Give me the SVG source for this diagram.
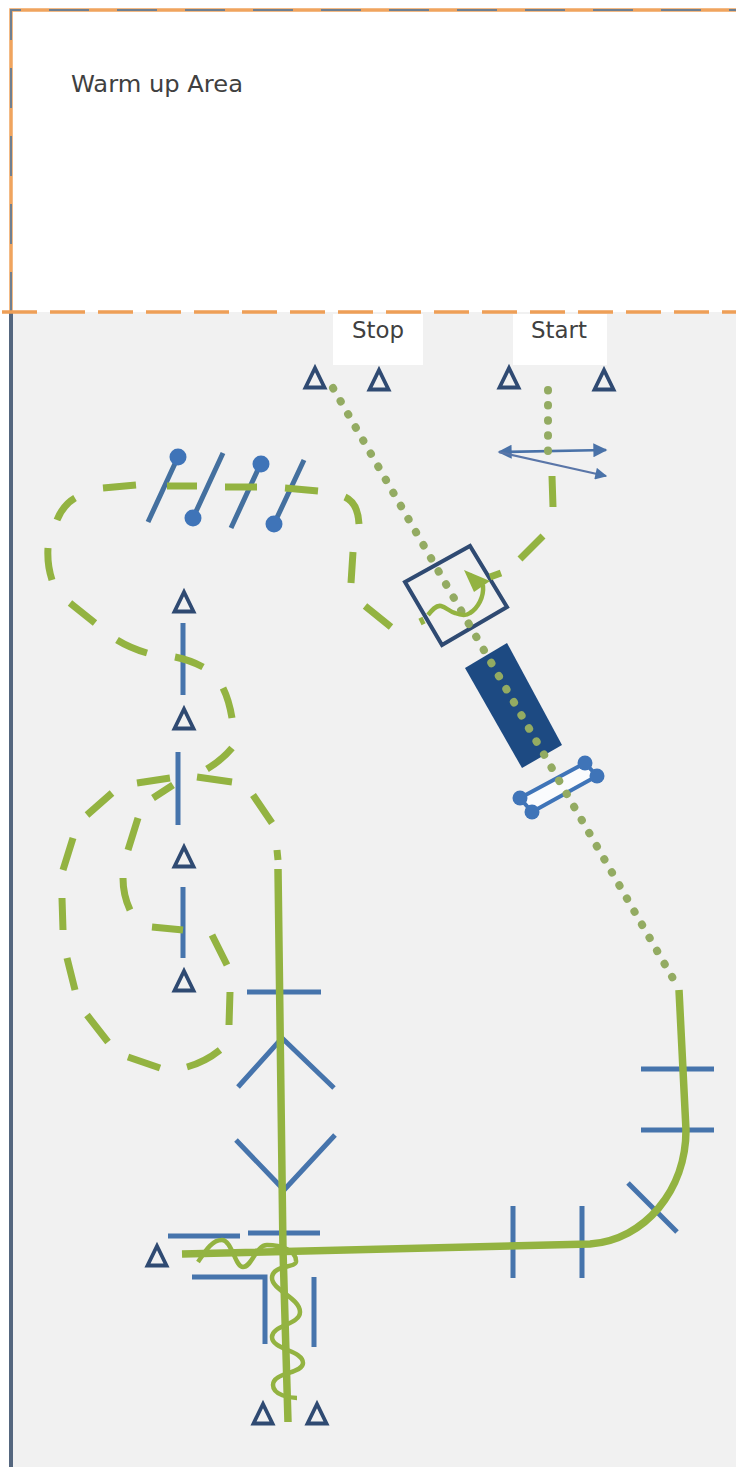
<svg xmlns="http://www.w3.org/2000/svg" width="736" height="1467" viewBox="0 0 736 1467">
<style>
.lbl{font-family:"DejaVu Sans","Liberation Sans",sans-serif;fill:#404040;font-size:23px}
.tri{fill:none;stroke:#2f4a72;stroke-width:3.8;stroke-linejoin:miter}
.b{fill:none;stroke:#44709f;stroke-width:5;stroke-linecap:butt}
.bt{fill:none;stroke:#4674ac;stroke-width:5}
.dot{fill:#3f74b8}
.g{fill:none;stroke:#93b341;stroke-width:7;stroke-linecap:butt;stroke-linejoin:round}
.gs{fill:none;stroke:#93b341;stroke-width:7.5}
.w{fill:none;stroke:#93b341;stroke-width:4.5;stroke-linejoin:round}
.d{fill:none;stroke:#93ab62;stroke-width:8;stroke-linecap:round;stroke-dasharray:0.5 14.6}
</style>
<defs>
<path id="t" class="tri" d="M0-11 L9.5 8.5 H-9.5 Z"/>
<marker id="ah" viewBox="0 0 10 10" refX="9" refY="5" markerWidth="6" markerHeight="5.4" orient="auto-start-reverse" markerUnits="strokeWidth"><path d="M0 0L10 5L0 10Z" fill="#4a72a8"/></marker>
</defs>
<rect width="736" height="1467" fill="#ffffff"/>
<rect id="field" x="11" y="312" width="725" height="1155" fill="#f1f1f1"/>

<g id="warm-up-area">
<path d="M11 312V10H736" fill="none" stroke="#f0a45e" stroke-width="3.5"/>
<path d="M11 312V10H736" fill="none" stroke="#6f7f90" stroke-width="2" stroke-dasharray="40 28"/>
<text class="lbl" x="71" y="92" textLength="172" lengthAdjust="spacingAndGlyphs">Warm up Area</text>
</g>
<g id="field-border">
<path d="M11 312V1467" fill="none" stroke="#55677f" stroke-width="4"/>
<path d="M2 312H736" fill="none" stroke="#ee9f57" stroke-width="3.5" stroke-dasharray="35 13"/>
</g>
<g id="stop"><rect x="333" y="314" width="90" height="51" fill="#fff"/><text class="lbl" x="352" y="338" textLength="52" lengthAdjust="spacingAndGlyphs">Stop</text></g>
<g id="start"><rect x="513" y="314" width="94" height="51" fill="#fff"/><text class="lbl" x="531" y="338" textLength="56" lengthAdjust="spacingAndGlyphs">Start</text></g>

<g id="obstacle-rect"><path d="M465 668L507 643L562 745L522 768Z" fill="#1d4a82"/></g>
<g id="obstacle-square"><path d="M405 582L470 546L507 607L442 645Z" fill="none" stroke="#2f4a72" stroke-width="4"/></g>
<g id="gate">
<path d="M520 798L585 763L597 776L532 812Z" fill="#fafbfd" stroke="#3f74b8" stroke-width="4"/>
<circle class="dot" cx="520" cy="798" r="7.5"/><circle class="dot" cx="532" cy="812" r="7.5"/><circle class="dot" cx="585" cy="763" r="7.5"/><circle class="dot" cx="597" cy="776" r="7.5"/>
</g>
<g id="poles">
<path class="b" d="M148 522L178 457M223 453L193 518M261 463L231 528M304 460L274 524"/>
<circle class="dot" cx="178" cy="457" r="8.5"/><circle class="dot" cx="193" cy="518" r="8.5"/><circle class="dot" cx="261" cy="464" r="8.5"/><circle class="dot" cx="274" cy="524" r="8.5"/>
</g>
<g id="barriers">
<path class="bt" d="M183 623V695M178 752V825M183 887V958M247 992H321M238 1087L282 1038L334 1088M236 1140L284 1190L335 1135M168 1236H240M248 1233H320M192 1277H265V1344M314 1277V1347M513 1206V1278M582 1206V1278M641 1069H714M641 1130H714M628 1183L677 1232"/>
</g>
<g id="start-arrows">
<path d="M499 452L606 450" fill="none" stroke="#4a72a8" stroke-width="2.6" marker-start="url(#ah)" marker-end="url(#ah)"/>
<path d="M499 452L606 476" fill="none" stroke="#5a76a8" stroke-width="2.2" marker-end="url(#ah)"/>
</g>

<g id="connectors">
<path class="d" d="M333 388L675 982"/>
<path class="d" d="M548 390V452"/>
<path class="g" d="M103 488L136 485M167 486H197M225 487H257M285 488L318 491M345 497Q358 503 359 524M353 552L351 583M365 606L391 627M420 622L424 620M520 559L543 536M552 476L553 507M490 577L501 573M75 498Q63 505 57 520M48 548Q47 565 52 580M70 603L95 623M117 640Q130 648 147 653M175 657Q190 660 203 667M223 688Q229 700 232 718M232 748Q222 760 207 769M197 777L232 782M253 795L272 823M277 850L278 860M137 783L170 778M153 798L173 785M112 793L87 815M73 838L63 870M62 898L63 930M67 958L75 990M87 1015L108 1042M128 1057L160 1068M187 1067Q205 1062 220 1050M230 992L229 1025M212 935L227 965M152 927L183 930M130 910Q123 895 123 878M128 850L138 818"/>
<path class="gs" d="M278 869L283 1250L288 1422"/>
<path class="gs" d="M182 1254L590 1244C645 1240 686 1190 686 1130L679 990"/>
<path class="w" d="M198 1262C206 1250 212 1240 222 1240C232 1240 235 1267 243 1267C252 1267 256 1245 267 1245C280 1245 297 1250 296 1262C295 1268 272 1265 272 1278C272 1290 300 1298 300 1312C300 1325 272 1325 272 1337C272 1350 303 1350 303 1363C303 1374 273 1372 273 1385C273 1395 290 1398 297 1398"/>
<path class="w" d="M428 615C432 610 436 605 441 606C446 607 450 612 455 613C460 615 466 616 470 613C478 608 484 597 483 586L470 575"/>
<path d="M464 570L490 581L474 592Z" fill="#93b341"/>
</g>

<g id="markers">
<use href="#t" x="315" y="379"/><use href="#t" x="379" y="381"/><use href="#t" x="509" y="379"/><use href="#t" x="604" y="381"/>
<use href="#t" x="184" y="603"/><use href="#t" x="184" y="720"/><use href="#t" x="184" y="858"/><use href="#t" x="184" y="982"/>
<use href="#t" x="157" y="1257"/><use href="#t" x="263" y="1415"/><use href="#t" x="317" y="1415"/>
</g>
</svg>
